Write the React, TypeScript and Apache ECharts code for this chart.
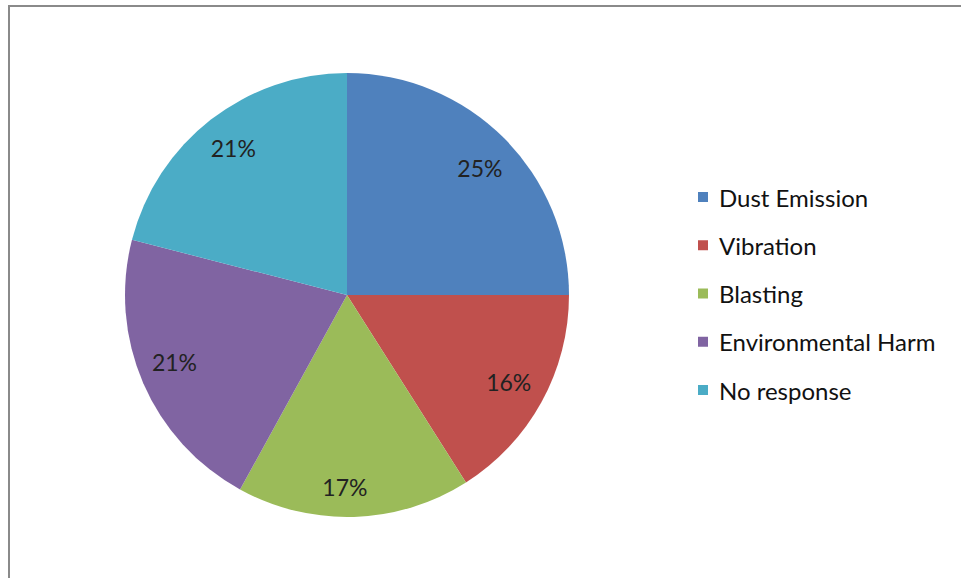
import React, { useEffect, useRef } from "react";
import * as echarts from "echarts";

const categories = ["Dust Emission", "Vibration", "Blasting", "Environmental Harm", "No response"];
const values = [25, 16, 17, 21, 21];
const colors = ["#4F81BD", "#C0504D", "#9BBB59", "#8064A2", "#4BACC6"];
const labelPads = [
  [0, 0, 0, 0],
  [0, 6, 0, 0],
  [0, 16, 0, 0],
  [0, 0, 0, 0],
  [0, 0, 0, 3],
];
const labelShiftY = [6, -4, 4.5, -7.5, 2];

export default function App() {
  const ref = useRef<HTMLDivElement>(null);
  useEffect(() => {
    if (!ref.current) return;
    const chart = echarts.init(ref.current, null, { renderer: "svg" });
    const data = categories.map((name, i) => ({ name, value: values[i], itemStyle: { color: colors[i] } }));
    chart.setOption({
      animation: false,
      backgroundColor: "#ffffff",
      graphic: [
        {
          type: "rect",
          shape: { x: 9, y: 6, width: 1000, height: 700 },
          style: { fill: "none", stroke: "#8a8a8a", lineWidth: 2 },
          silent: true,
        },
      ],
      legend: {
        orient: "vertical",
        left: 698,
        top: 185,
        padding: 0,
        itemWidth: 10,
        itemHeight: 10,
        itemGap: 24.25,
        icon: "rect",
        data: categories,
        textStyle: {
          fontFamily: "Lato",
          fontSize: 24,
          lineHeight: 24,
          color: "#111",
          padding: [0, 0, 0, 6],
        },
      },
      series: [
        {
          type: "pie",
          center: [347, 295],
          radius: [0, 222],
          startAngle: 90,
          clockwise: true,
          label: { show: false },
          labelLine: { show: false },
          itemStyle: { borderWidth: 0 },
          data,
        },
        {
          type: "pie",
          center: [347, 295],
          radius: [0, 370],
          startAngle: 90,
          clockwise: true,
          silent: true,
          legendHoverLink: false,
          itemStyle: { color: "rgba(0,0,0,0)", borderWidth: 0 },
          label: {
            show: true,
            position: "inside",
            formatter: (p: any) => {
              const s = labelShiftY[p.dataIndex];
              const t = `{t|${p.value}%}`;
              return s >= 0 ? `{s${p.dataIndex}| }\n${t}` : `${t}\n{s${p.dataIndex}| }`;
            },
            rich: Object.fromEntries([
              ["t", { fontFamily: "Lato", fontSize: 23, lineHeight: 24, color: "#222" }],
              ...labelShiftY.map((s, i) => [
                `s${i}`,
                { fontSize: 1, lineHeight: Math.max(1, Math.abs(s) * 2) },
              ]),
            ]),
          },
          labelLine: { show: false },
          data: categories.map((name, i) => ({
            name,
            value: values[i],
            itemStyle: { color: "rgba(0,0,0,0)" },
            label: { padding: labelPads[i] },
          })),
        },
      ],
    });
    return () => chart.dispose();
  }, []);
  return <div ref={ref} style={{ position: "fixed", left: 0, top: 0, width: 961, height: 578 }} />;
}
